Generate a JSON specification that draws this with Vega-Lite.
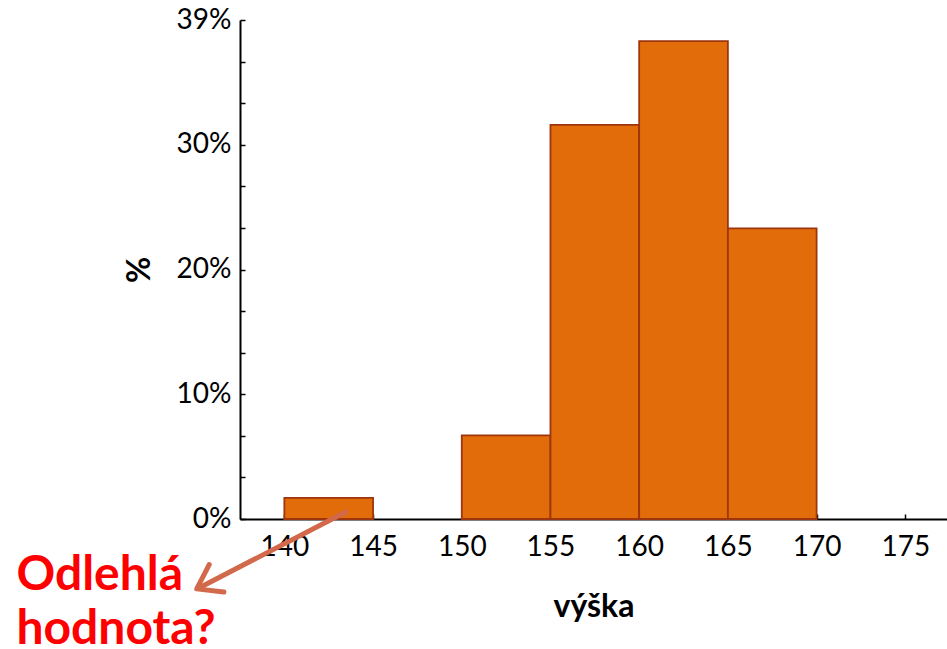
{
  "$schema": "https://vega.github.io/schema/vega-lite/v6.json",
  "width": 707,
  "height": 499,
  "autosize": {"type": "none"},
  "padding": {"left": 240, "top": 20, "right": 0, "bottom": 130},
  "background": "white",
  "config": {
    "view": {"stroke": null},
    "font": "Lato",
    "axis": {
      "grid": false,
      "domainColor": "black",
      "domainWidth": 2,
      "tickColor": "black",
      "tickWidth": 1.5,
      "tickSize": -5,
      "labelFont": "Lato",
      "labelFontSize": 28,
      "labelColor": "black",
      "titleFont": "Lato",
      "titleFontSize": 32,
      "titleFontWeight": "bold",
      "titleColor": "black"
    }
  },
  "encoding": {
    "x": {
      "field": "x",
      "type": "quantitative",
      "scale": {"domain": [137.5, 177.35], "nice": false, "zero": false},
      "axis": {"values": [140, 145, 150, 155, 160, 165, 170, 175], "format": "d", "labelPadding": 19, "titlePadding": 30},
      "title": "výška"
    },
    "y": {
      "field": "y",
      "type": "quantitative",
      "scale": {"domain": [0, 40], "nice": false},
      "axis": {
        "values": [0, 3.3333, 6.6667, 10, 13.3333, 16.6667, 20, 23.3333, 26.6667, 30, 33.3333, 36.6667, 40],
        "labelExpr": "abs(datum.value - round(datum.value / 10) * 10) < 0.01 ? (datum.value == 40 ? '39%' : format(datum.value, 'd') + '%') : ''",
        "labelPadding": 14,
        "titlePadding": 20
      },
      "title": "%"
    }
  },
  "layer": [
    {
      "data": {
        "values": [
          {"x": 140, "x2": 145, "y": 1.7},
          {"x": 150, "x2": 155, "y": 6.7},
          {"x": 155, "x2": 160, "y": 31.6},
          {"x": 160, "x2": 165, "y": 38.3},
          {"x": 165, "x2": 170, "y": 23.3}
        ]
      },
      "mark": {"type": "bar", "fill": "#E36C0A", "stroke": "#9E350C", "strokeWidth": 1.8},
      "encoding": {"x2": {"field": "x2"}, "y2": {"datum": 0}}
    },
    {
      "data": {"values": [{"x": 143.46, "y": 0.56, "x2": 135.29, "y2": -5.45}]},
      "mark": {"type": "rule", "color": "#D2694B", "strokeWidth": 5, "strokeCap": "round", "clip": false},
      "encoding": {"x2": {"field": "x2"}, "y2": {"field": "y2"}}
    },
    {
      "data": {"values": [{"x": 135.06, "y": -5.6}]},
      "mark": {
        "type": "point",
        "shape": "M -0.82 -0.57 L 0 0 L -0.82 0.57",
        "filled": false,
        "stroke": "#D2694B",
        "strokeWidth": 5,
        "strokeCap": "round",
        "strokeJoin": "round",
        "size": 3000,
        "angle": 152,
        "opacity": 1,
        "clip": false
      }
    },
    {
      "data": {
        "values": [
          {"x": 124.9, "y": -5.69, "label": "Odlehlá"},
          {"x": 124.9, "y": -10.0, "label": "hodnota?"}
        ]
      },
      "mark": {"type": "text", "align": "left", "baseline": "alphabetic", "font": "Lato", "fontSize": 48, "fontWeight": "bold", "color": "#FF0000", "clip": false},
      "encoding": {"text": {"field": "label"}}
    }
  ]
}
